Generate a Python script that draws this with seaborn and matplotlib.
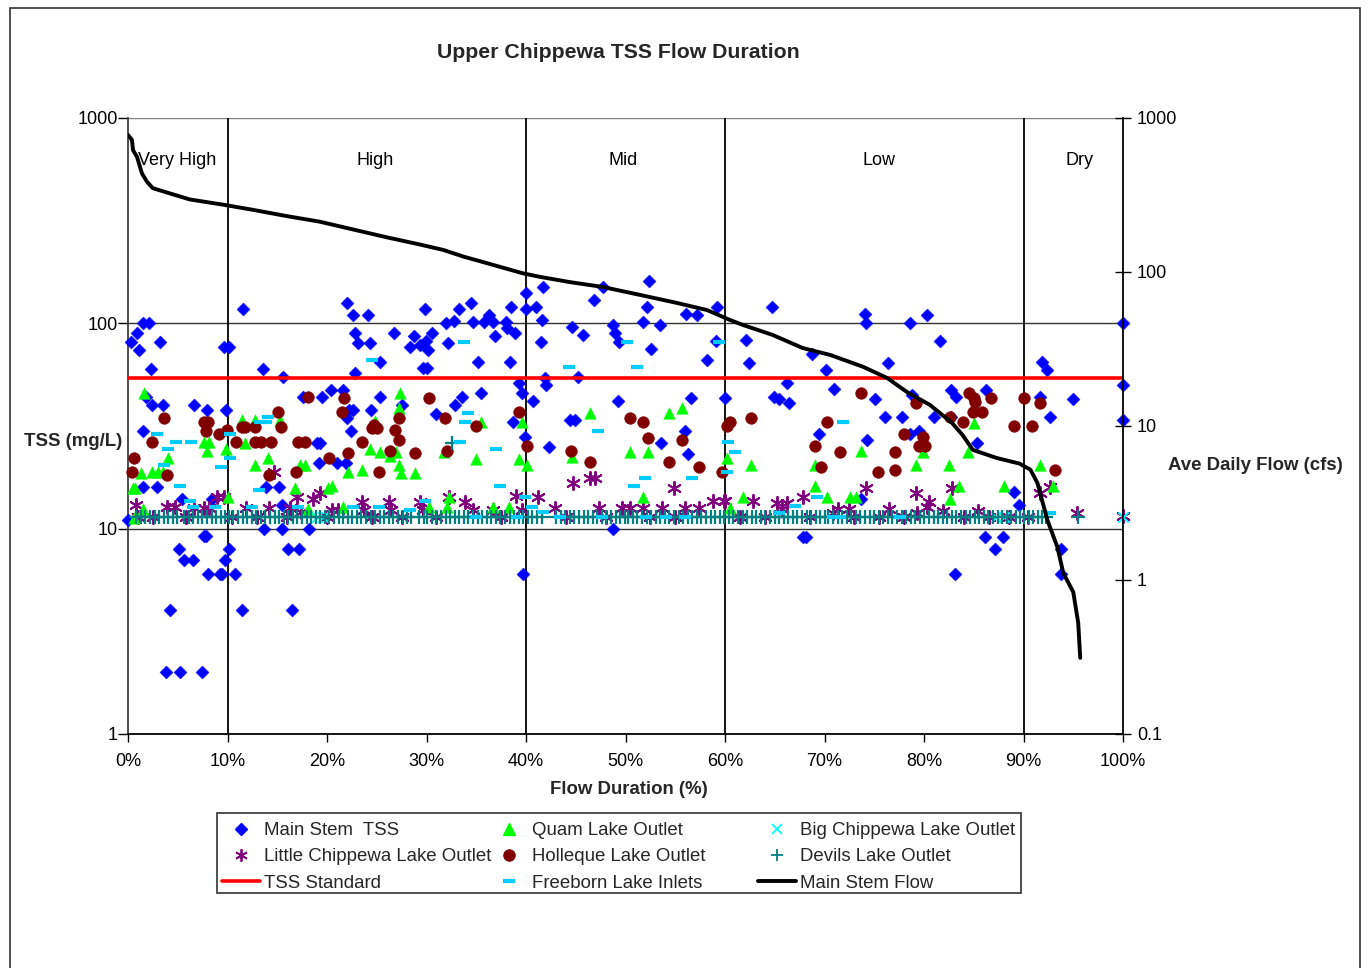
import matplotlib
matplotlib.use("Agg")
import matplotlib.pyplot as plt
import seaborn as sns
import pandas as pd
from matplotlib.lines import Line2D
from matplotlib.patches import Rectangle

sns.set_style("white")
plt.rcParams['font.family'] = ['Liberation Sans', 'DejaVu Sans']

# ---------------- data (flow duration %, TSS mg/L) ----------------
main_stem_pts = [
    (11.6,117),(1.5,100),(2.1,100),(0.9,90),(0.3,81),(1.1,74),(3.2,81),(9.6,77),(10.2,77),(2.3,60),
    (13.6,60),(15.6,55),(1.8,44),(2.4,40),(3.5,40),(6.6,40),(7.9,38),(9.8,38),(1.5,30),(17.6,44),
    (19.5,44),(19.0,26.2),(19.3,26.2),(19.2,21),(1.5,16),(2.9,16),(5.4,14),(8.4,14),(13.9,16),(15.2,16),
    (15.5,13),(0.0,11),(13.7,10),(15.5,10),(18.2,10),(7.6,9.2),(7.8,9.2),(5.1,8.0),(10.2,8.0),(16.1,8.0),
    (17.2,8.0),(5.6,7.0),(6.5,7.0),(9.7,7.0),(8.0,6.0),(9.2,6.0),(9.4,6.0),(10.8,6.0),(4.2,4.0),(11.5,4.0),
    (16.5,4.0),(3.8,2.0),(5.2,2.0),(7.4,2.0),
    (22.0,125),(22.6,110),(24.1,110),(29.8,117),(33.3,118),(34.5,125),(36.3,110),(38.5,120),(40.0,140),(40.0,118),
    (32.8,103),(32.0,100),(34.7,101),(35.8,101),(36.7,101),(38.0,101),(38.1,95),(22.8,90),(26.7,90),(23.1,80),
    (24.3,80),(28.7,87),(28.3,77),(29.3,78),(29.9,82),(30.6,90),(30.2,74),(32.2,80),(36.9,87),(38.9,90),
    (25.3,64.5),(29.6,60.5),(30.1,60.5),(35.2,65),(38.4,65),(22.8,57.5),(39.3,51),(39.6,46),(20.4,47.3),(21.6,47.3),
    (25.3,44),(27.5,40),(22.6,38),(22.2,38),(22.0,34.5),(24.4,38),(31.0,36),(32.9,40),(33.6,44),(35.5,46),
    (38.7,32.9),(39.9,28),(22.4,30),(21.0,21),(21.9,21),(39.7,6.0),
    (41.7,150),(47.7,150),(52.4,160),(41.0,120),(46.8,130),(52.2,120),(56.1,111),(57.2,110),(59.2,120),(41.6,104),
    (44.6,96),(45.7,88),(48.7,98),(48.9,90),(49.3,81),(51.8,101),(53.5,98),(41.5,81),(52.6,75),(58.2,66),
    (59.1,82),(41.9,54.3),(42.0,50),(45.2,55),(40.7,42),(49.2,42),(56.6,43.2),(60.0,43.2),(44.4,34),(44.9,34),
    (56.0,30),(42.3,24.9),(53.6,26),(56.3,23.1),(48.7,10.0),
    (64.7,120),(74.1,111),(74.2,100),(78.6,100),(80.3,110),(62.1,83),(62.4,64),(68.7,71),(76.4,64),(70.2,59),
    (66.2,51),(71.0,48),(64.9,44),(65.4,43),(66.4,41),(75.1,43),(78.8,45),(76.1,35),(77.8,35),(69.4,29),
    (74.3,27),(78.6,29),(79.5,30),(73.7,14),(67.8,9.1),(68.1,9.1),
    (81.6,82),(91.9,64.5),(92.4,59),(100,100),(100,50),(100,34),(82.7,47.3),(83.2,44),(86.2,47.3),(91.7,44),
    (95.0,43),(81.0,35),(82.7,35),(92.7,35),(85.3,26.2),(89.0,15.1),(89.5,13),(86.1,9.1),(87.9,9.1),(87.1,8.0),
    (93.8,8.0),(83.1,6.0),(93.8,6.0),
]

quam_pts = [
    (1.6,45.6),(11.5,33.8),(12.8,33.8),(15.3,34),(7.6,26.5),(8.1,26.5),(7.9,24),(9.8,24.5),(11.8,26),(4.0,22),
    (14.1,22),(12.8,20.5),(17.3,20.5),(17.8,20.5),(1.3,18.6),(2.4,18.8),(3.0,18.8),(3.5,18.8),(0.5,15.7),(0.7,15.7),
    (16.8,15.7),(10.1,14.2),(20.1,15.7),(1.5,12.5),(0.6,11.3),(18.1,12.5),
    (27.3,46),(27.2,38.5),(24.8,33.6),(35.5,33),(39.6,33),(24.3,24.5),(25.3,23.5),(26.3,22.7),(26.9,23.5),(27.2,20.5),
    (31.8,23.5),(35.0,21.8),(39.3,21.8),(40.1,20.4),(22.1,18.8),(23.5,19.2),(27.4,18.6),(28.8,18.6),(20.5,16.1),(21.6,12.7),
    (30.3,12.7),(32.1,12.7),(36.7,12.7),(38.3,12.7),(32.3,14.3),
    (46.4,36.7),(54.4,36.7),(55.7,38.5),(44.6,22.3),(50.5,23.5),(52.3,23.5),(60.2,22),(51.8,14.2),
    (62.6,20.5),(69.0,20.5),(73.7,23.8),(79.2,20.5),(79.9,23.5),(69.0,16.2),(61.8,14.3),(70.3,14.3),(72.6,14.3),(73.2,14.3),
    (60.5,12.6),
    (85.0,32.6),(84.4,23.5),(82.5,20.5),(91.7,20.5),(83.5,16.1),(88.0,16.1),(82.6,14),(93.0,16.1),
]

holleque_pts = [
    (18.1,43.6),(3.6,34.7),(15.1,36.9),(7.6,33.2),(8.0,33.2),(7.8,29.9),(9.1,28.8),(9.9,30.4),(11.5,31.3),(11.8,31.3),
    (12.8,31.3),(15.4,31.3),(2.4,26.3),(10.9,26.3),(12.8,26.3),(13.4,26.3),(14.4,26.3),(17.1,26.3),(17.8,26.3),(0.6,22),
    (0.4,18.8),(3.9,18.3),(14.2,18.3),(16.9,18.8),(20.2,22),
    (21.7,43.5),(21.5,36.9),(30.3,43.5),(31.9,34.7),(27.2,34.7),(35.0,31.6),(39.3,36.9),(24.5,31),(25.0,31),(24.7,32),
    (26.8,30.1),(27.2,27),(23.5,26.3),(40.1,25.3),(22.1,23.3),(26.3,24),(28.8,23.3),(32.1,23.8),(25.2,18.8),
    (50.5,34.7),(51.8,33),(52.3,27.5),(55.7,27),(60.2,31.6),(44.5,24),(46.4,21.2),(54.4,21.2),(57.4,19.9),(59.7,18.8),
    (60.5,33.2),(62.6,34.7),(73.7,46),(79.2,41),(70.3,33),(78.0,28.8),(69.0,25.3),(71.6,23.6),(77.1,23.6),(79.9,28),
    (79.5,25.3),(80.1,25.3),(69.6,19.9),(75.4,18.8),(77.1,19.3),
    (84.5,46),(85.0,43.5),(85.1,41.2),(84.9,36.9),(85.8,36.9),(86.7,43.5),(90.0,43.5),(91.7,41),(82.6,35),(83.9,33),
    (89.0,31.6),(90.9,31.6),(93.2,19.3),
]

freeborn_pts = [
    (14.1,34.8),(13.9,33),(13.3,33),(2.9,28.8),(4.8,26.3),(6.3,26.3),(4.0,24.5),(10.3,28.8),(10.3,22),(3.6,20.5),
    (9.3,19.9),(5.2,16.2),(13.2,15.4),(6.2,13.6),(6.5,12.7),(8.7,12.7),(12.5,12.7),(17.1,12.7),
    (33.8,81),(24.5,66),(34.2,36.7),(33.9,33),(33.4,26.3),(37.0,24.5),(37.4,16.2),(29.8,13.6),(22.6,12.7),(25.2,12.7),
    (28.3,12.3),(35.0,11.4),(39.1,11.4),(39.9,14.2),
    (50.2,81),(59.4,81),(44.3,61),(51.2,61),(47.2,30),(60.3,26.5),(52.0,17.7),(50.9,16.2),(56.7,17.7),(60.2,18.8),
    (40.6,12.7),(41.7,12.0),(43.4,11.4),(47.6,11.4),(52.1,11.4),(54.1,11.4),(56.0,11.4),
    (71.9,33),(61.0,23.6),(69.2,14.3),(67.0,12.9),(65.4,11.9),(70.9,11.4),(77.6,11.4),(92.7,11.9),(71.6,11.4),
]

little_chippewa_pts = [
    (14.7,18.8),(0.8,13),(3.9,12.7),(4.7,12.7),(6.6,12.6),(7.6,12.6),(8.1,12.6),(8.9,14.3),(9.6,14.3),(11.9,12.6),
    (14.2,12.6),(17.0,14.3),(19.3,14.9),(18.6,14),(16.3,12.6),(17.4,12),
    (32.3,14.3),(39.0,14.4),(23.5,13.5),(26.2,13.5),(29.3,13.5),(33.9,13.5),(20.5,12.3),(21.1,12.3),(23.7,12.3),(26.4,12.3),
    (29.6,12.3),(34.7,12.3),(36.7,12.3),(39.6,12.3),
    (44.7,16.6),(46.4,17.7),(46.9,17.7),(54.9,15.7),(41.2,14.3),(58.8,13.6),(59.9,13.6),(42.9,12.6),(47.3,12.6),(49.6,12.6),
    (50.5,12.6),(51.8,12.6),(53.7,12.6),(56.0,12.6),(57.4,12.6),
    (74.2,15.7),(79.2,15),(67.8,14.3),(60.0,13.6),(62.8,13.6),(65.2,13.3),(66.2,13.3),(65.7,12.5),(71.4,12.5),(72.5,12.5),
    (76.5,12.5),(70.9,11.9),(79.3,11.9),(80.3,12.7),
    (82.8,15.7),(91.7,15),(92.7,15.9),(80.5,13.5),(81.9,12.2),(85.4,12.2),(95.4,11.9),(100,11.5),
    (1.0,11.4),(2.5,11.4),(5.8,11.4),(10.5,11.4),(13.0,11.4),(16.0,11.4),(20.0,11.4),(24.5,11.4),(27.5,11.4),(31.0,11.4),
    (37.5,11.4),(44.0,11.4),(48.0,11.4),(52.5,11.4),(55.0,11.4),(61.5,11.4),(64.0,11.4),(68.5,11.4),(73.0,11.4),(75.5,11.4),
    (78.0,11.4),(84.0,11.4),(86.5,11.4),(88.5,11.4),(90.5,11.4),
]

big_chippewa_pts = [(19.0,11.4),(19.6,11.4),(87.2,11.4),(88.0,11.4),(100,11.4)]

devils_band_pct = [
    0.8, 1.3, 1.7, 2.2, 2.7, 3.1, 3.6, 4.0, 4.5, 4.9,
    5.6, 6.1, 6.5, 7.0, 7.4, 7.9, 8.4, 8.8, 9.3, 9.7, 10.2, 10.6, 11.1, 11.6, 12.0, 12.5, 12.9, 13.4, 13.8, 14.3,
    14.8, 15.2, 15.7, 16.1, 16.6, 17.0, 17.5, 18.0, 18.4, 18.9, 19.3, 19.8, 20.2, 20.7, 21.2, 21.6, 22.1, 22.5, 23.0, 23.4,
    23.9, 24.4, 24.8, 25.3, 25.7, 26.2, 26.6, 27.1, 27.6, 28.0, 28.4,
    29.2, 29.7, 30.1, 30.6, 31.0, 31.5, 32.0, 32.4, 32.9, 33.3, 33.8, 34.2, 34.7, 35.2, 35.6, 36.1, 36.5, 37.0, 37.4, 37.9,
    38.4, 38.8, 39.3, 39.7, 40.2, 40.6, 41.1, 41.6,
    43.0, 43.5, 43.9, 44.4, 44.8, 45.3, 45.8, 46.2, 46.7, 47.1, 47.6, 48.0, 48.5, 49.0, 49.4, 49.9, 50.3, 50.8, 51.2, 51.7,
    52.2, 52.6, 53.1, 53.5, 54.0, 54.4, 54.9, 55.4, 55.8, 56.3, 56.7, 57.2, 57.6, 58.1, 58.6, 59.0, 59.5, 59.9, 60.4, 60.8,
    61.3, 61.8, 62.2, 62.7, 63.1, 63.6, 64.0, 64.5, 65.0, 65.4, 65.9, 66.3, 66.8, 67.2, 67.7, 68.2, 68.6, 69.1, 69.5, 70.0,
    70.4, 70.9, 71.4, 71.8, 72.3, 72.7, 73.2, 73.6, 74.1, 74.6, 75.0, 75.5, 75.9, 76.4, 76.8, 77.3, 77.8, 78.2, 78.7, 79.1,
    79.6, 80.0, 80.5, 81.0, 81.4, 81.9, 82.3, 82.8, 83.2, 83.7, 84.2, 84.6, 85.1, 85.5, 86.0, 86.4, 86.9, 87.4, 87.8, 88.3,
    88.7, 89.2, 89.6, 90.1, 90.6, 91.0, 91.5, 91.9, 92.3, 95.5,
]
devils_band_tss = 11.4
devils_other_pts = [(32.6,26.2)]

tss_standard_pct = [0, 100]
tss_standard_val = [54, 54]

flow_pct = [0.0, 0.4, 0.5, 0.9, 1.4, 1.9, 2.5, 4.2, 6.2, 9.8, 12.6, 15.9, 19.3, 22.6, 26.0, 29.3, 31.7, 33.7, 36.1,
            39.7, 41.4, 44.4, 47.7, 51.5, 55.2, 58.2, 60.5, 61.8, 64.8, 67.8, 70.6, 73.9, 76.3, 78.3, 80.6, 82.8,
            83.9, 84.9, 87.3, 89.6, 90.7, 91.4, 92.4, 93.4, 94.0, 95.0, 95.5, 95.7]
flow_cfs = [776, 720, 619, 561, 437, 386, 350, 324, 296, 272, 253, 231, 212, 189, 168, 151, 139, 126, 114,
            98, 93, 86, 80, 70.9, 62.9, 56.6, 48.8, 45.3, 39, 32.1, 28.9, 24.2, 20.5, 16.6, 13.7, 10.5,
            8.7, 7.0, 6.2, 5.7, 5.2, 4.26, 2.45, 1.64, 1.11, 0.835, 0.526, 0.312]

zone_bounds = [10, 40, 60, 90]
zone_names = ['Very High', 'High', 'Mid', 'Low', 'Dry']
zone_label_pct = [4.9, 24.8, 49.8, 75.5, 95.6]

x_ticks = [0, 10, 20, 30, 40, 50, 60, 70, 80, 90, 100]
left_ticks = [1, 10, 100, 1000]
right_ticks = [0.1, 1, 10, 100, 1000]

# ---------------- figure ----------------
W, H = 1368, 968
fig = plt.figure(figsize=(W / 100, H / 100), dpi=100)
fig.patch.set_facecolor('white')

def fx(px):
    return px / W

def fy(py):
    return 1 - py / H

ax = fig.add_axes([fx(128), fy(734), fx(1123) - fx(128), fy(118) - fy(734)])
ax.set_facecolor('white')

def df(pts):
    return pd.DataFrame(pts, columns=['pct', 'tss'])

C_BLUE = '#0000FF'
C_GREEN = '#00FF00'
C_RED = '#800000'
C_PURPLE = '#800080'
C_CYAN = '#00FFFF'
C_TEAL = '#008080'
C_DASH = '#00CCFF'
ASTER = (6, 2, 0)

ax.set_yscale('log')
ax.set_xlim(0, 100)
ax.set_ylim(1, 1000)

# grid / zone lines
for v in [10, 100]:
    ax.axhline(v, color='#333333', lw=1.0, zorder=0.5)
ax.axhline(1000, color='#808080', lw=1.0, zorder=0.5)
for b in zone_bounds:
    ax.axvline(b, color='black', lw=1.3, zorder=0.6)

sns.scatterplot(data=df(main_stem_pts), x='pct', y='tss', ax=ax, marker='D', color=C_BLUE,
                edgecolor=C_BLUE, linewidth=0.3, s=44, zorder=3, clip_on=False)
sns.scatterplot(data=df(little_chippewa_pts), x='pct', y='tss', ax=ax, marker=ASTER, color=C_PURPLE,
                linewidth=1.4, s=90, zorder=3.1, clip_on=False)
sns.scatterplot(data=df(quam_pts), x='pct', y='tss', ax=ax, marker='^', color=C_GREEN,
                edgecolor=C_GREEN, linewidth=0.3, s=70, zorder=3.2, clip_on=False)
sns.scatterplot(data=df(holleque_pts), x='pct', y='tss', ax=ax, marker='o', color=C_RED,
                edgecolor=C_RED, linewidth=0.3, s=72, zorder=3.3, clip_on=False)
sns.scatterplot(data=df(big_chippewa_pts), x='pct', y='tss', ax=ax, marker='x', color=C_CYAN,
                linewidth=1.4, s=55, zorder=3.4, clip_on=False)
devils_pts = [(p, devils_band_tss) for p in devils_band_pct] + devils_other_pts
sns.scatterplot(data=df(devils_pts), x='pct', y='tss', ax=ax, marker='+', color=C_TEAL,
                linewidth=1.6, s=95, zorder=3.5, clip_on=False)
sns.scatterplot(data=df(freeborn_pts), x='pct', y='tss', ax=ax, marker='_', color=C_DASH,
                linewidth=3.0, s=75, zorder=3.6, clip_on=False)
sns.lineplot(x=tss_standard_pct, y=tss_standard_val, ax=ax, color='#FF0000', lw=2.6, zorder=3.7)

for name, p in zip(zone_names, zone_label_pct):
    ax.text(p, 624, name, ha='center', va='center', fontsize=13, color='black', zorder=5)

ax.set_xticks(x_ticks)
ax.set_xticklabels([f'{t}%' for t in x_ticks])
ax.set_yticks(left_ticks)
ax.set_yticklabels([str(t) for t in left_ticks])
ax.minorticks_off()
ax.tick_params(axis='x', direction='out', length=6, width=1, pad=8, labelsize=13, colors='black', bottom=True)
ax.tick_params(axis='y', direction='out', length=7, width=1, pad=0.5, labelsize=13, colors='black', left=True)
ax.set_xlabel('')
ax.set_ylabel('')
ax.spines['top'].set_visible(False)
ax.spines['left'].set_color('#404040')
ax.spines['left'].set_linewidth(1.3)
ax.spines['bottom'].set_color('black')
ax.spines['bottom'].set_linewidth(1.3)
ax.spines['right'].set_visible(False)

# secondary axis for flow
ax2 = ax.twinx()
ax2.set_yscale('log')
ax2.set_ylim(0.1, 1000)
sns.lineplot(x=flow_pct, y=flow_cfs, ax=ax2, color='black', lw=2.8, estimator=None, sort=False, zorder=6)
ax2.set_yticks(right_ticks)
ax2.set_yticklabels(['0.1', '1', '10', '100', '1000'])
ax2.minorticks_off()
ax2.tick_params(axis='y', direction='inout', length=12, width=1, pad=4, labelsize=13, colors='black', right=True)
ax2.set_ylabel('')
ax2.set_xlim(0, 100)
for sp in ['top', 'left', 'bottom']:
    ax2.spines[sp].set_visible(False)
ax2.spines['right'].set_color('black')
ax2.spines['right'].set_linewidth(1.3)

# texts
fig.text(fx(618), fy(52), 'Upper Chippewa TSS Flow Duration', ha='center', va='center',
         fontsize=15.3, fontweight='bold')
fig.text(fx(24), fy(441), 'TSS (mg/L)', ha='left', va='center', fontsize=13.4, fontweight='bold')
fig.text(fx(1168), fy(466), 'Ave Daily Flow (cfs)', ha='left', va='center', fontsize=13.4, fontweight='bold')
fig.text(fx(629), fy(790), 'Flow Duration (%)', ha='center', va='center', fontsize=13.4, fontweight='bold')

# legend (three columns drawn as three legends inside one frame)
h_main = Line2D([], [], ls='none', marker='D', color=C_BLUE, ms=6)
h_little = Line2D([], [], ls='none', marker=ASTER, color=C_PURPLE, ms=9, mew=1.3)
h_std = Line2D([], [], color='#FF0000', lw=2.6)
h_quam = Line2D([], [], ls='none', marker='^', color=C_GREEN, ms=8)
h_holl = Line2D([], [], ls='none', marker='o', color=C_RED, ms=8)
h_free = Line2D([], [], ls='none', marker='_', color=C_DASH, ms=9, mew=3)
h_big = Line2D([], [], ls='none', marker='x', color=C_CYAN, ms=7, mew=1.3)
h_dev = Line2D([], [], ls='none', marker='+', color=C_TEAL, ms=8, mew=1.3)
h_flow = Line2D([], [], color='black', lw=2.8)

legend_cols = [
    ([h_main, h_little, h_std], ['Main Stem  TSS', 'Little Chippewa Lake Outlet', 'TSS Standard'], 222),
    ([h_quam, h_holl, h_free], ['Quam Lake Outlet', 'Holleque Lake Outlet', 'Freeborn Lake Inlets'], 490),
    ([h_big, h_dev, h_flow], ['Big Chippewa Lake Outlet', 'Devils Lake Outlet', 'Main Stem Flow'], 758),
]
for hs, ls, xpx in legend_cols:
    fig.legend(hs, ls, loc='upper left', bbox_to_anchor=(fx(xpx), fy(822)), frameon=False,
               fontsize=13.4, handlelength=2.05, handletextpad=0.2, borderpad=0, borderaxespad=0,
               labelspacing=0.5)
fig.patches.append(Rectangle((fx(217), fy(893)), fx(1021) - fx(217), fy(813) - fy(893),
                             transform=fig.transFigure, fill=False, edgecolor='#333333', lw=1.2))

# outer frame
fig.patches.append(Rectangle((fx(10), -0.05), fx(1360) - fx(10), fy(8) + 0.05,
                             transform=fig.transFigure, fill=False, edgecolor='#333333', lw=1.2))

fig.savefig('out.png', dpi=100, facecolor='white')
